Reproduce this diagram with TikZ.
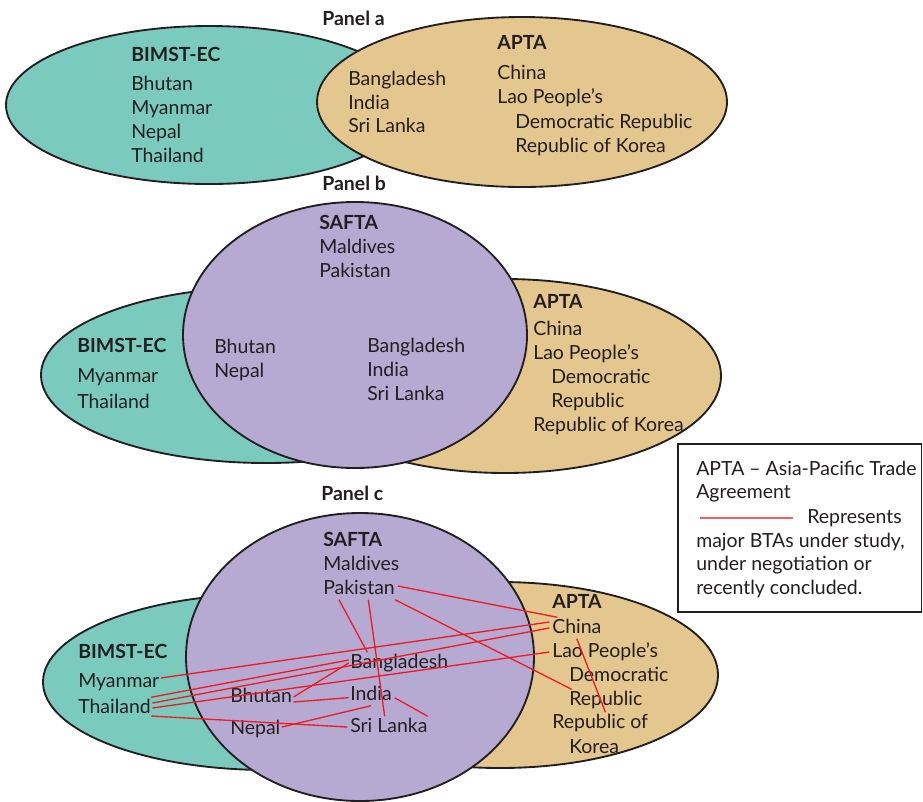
\documentclass[tikz,border=0pt]{standalone}
\usepackage{fontspec}
\setmainfont{Lato}
\definecolor{bimstc}{RGB}{122,203,190}
\definecolor{aptac}{RGB}{228,199,142}
\definecolor{saftac}{RGB}{183,170,210}
\definecolor{btared}{RGB}{237,28,36}
\definecolor{ink}{RGB}{35,31,32}

\begin{document}
\begin{tikzpicture}[x=0.75pt,y=-0.75pt,
		every node/.style={font=\fontsize{14.6}{17}\selectfont,text=ink},
		country/.style={anchor=base west,inner xsep=0pt,inner ysep=1.1pt,text height=10.5pt,text depth=3pt},
		bloc/.style={country,font=\fontsize{14.6}{17}\selectfont\bfseries},
		venn/.style={draw=ink,line width=1.4pt},
		bta/.style={draw=btared,line width=1pt}]
		\useasboundingbox (0,0) rectangle (923,801);
		
		%---------------- PANEL A: BIMST-EC AND APTA ----------------
		\node[bloc] (a-title) at (322,25) {Panel a};
		\draw[venn,fill=bimstc] (209,105) ellipse [x radius=203, y radius=79];
		\draw[venn,fill=aptac] (522,102) ellipse [x radius=205, y radius=85];
		
		\node[bloc] (a-bimst) at (131,61) {BIMST-EC};
		\foreach \n/\t/\y in {bhu/Bhutan/90,mya/Myanmar/114,nep/Nepal/138,tha/Thailand/162} {
			\node[country] (a-\n) at (131,\y) {\t};
		}
		\foreach \n/\t/\y in {bang/Bangladesh/85,ind/India/109,sri/Sri Lanka/132} {
			\node[country] (a-\n) at (348,\y) {\t};
		}
		\node[bloc] (a-apta) at (497,49) {APTA};
		\node[country] (a-china) at (497,79) {China};
		\node[country] (a-lao) at (497,103) {Lao People’s};
		\node[country] (a-dem) at (515,128) {Democratic Republic};
		\node[country] (a-kor) at (515,152) {Republic of Korea};
		
		%---------------- PANEL B: SAFTA ADDED ----------------
		\node[bloc] (b-title) at (322,190) {Panel b};
		\draw[venn,fill=bimstc] (266,375) ellipse [x radius=225, y radius=88];
		\draw[venn,fill=aptac] (505,376) ellipse [x radius=216, y radius=97];
		\draw[venn,fill=saftac] (355,335) ellipse [x radius=172, y radius=133];
		
		\node[bloc] (b-safta) at (319,229) {SAFTA};
		\node[country] (b-mal) at (319,253) {Maldives};
		\node[country] (b-pak) at (319,277) {Pakistan};
		\node[country] (b-bhu) at (214,353) {Bhutan};
		\node[country] (b-nep) at (214,377) {Nepal};
		\foreach \n/\t/\y in {bang/Bangladesh/352,ind/India/376,sri/Sri Lanka/400} {
			\node[country] (b-\n) at (367,\y) {\t};
		}
		\node[bloc] (b-bimst) at (77,352) {BIMST-EC};
		\node[country] (b-mya) at (77,382) {Myanmar};
		\node[country] (b-tha) at (77,408) {Thailand};
		\node[bloc] (b-apta) at (533,308) {APTA};
		\node[country] (b-china) at (533,335) {China};
		\node[country] (b-lao) at (533,359) {Lao People’s};
		\node[country] (b-dem) at (551,383) {Democratic};
		\node[country] (b-rep) at (551,407) {Republic};
		\node[country] (b-kor) at (533,431) {Republic of Korea};
		
		% key
		\draw[line width=1.4pt,draw=ink,fill=white] (678,444) rectangle (921.5,612);
		\node[country] (k-apta) at (696,475) {APTA – Asia-Pacific Trade};
		\node[country] (k-agr) at (696,498) {Agreement};
		\node[country] (k-rep) at (807,523) {Represents};
		\node[country] (k-maj) at (696,547) {major BTAs under study,};
		\node[country] (k-neg) at (696,570) {under negotiation or};
		\node[country] (k-con) at (696,594) {recently concluded.};
		\coordinate (k-a) at (700,518);
		\coordinate (k-b) at (793,518);
		\draw[bta,draw=btared!70,line width=1.5pt] (k-a) -- (k-b);
		
		%---------------- PANEL C: BTAs ----------------
		\node[bloc] (c-title) at (321,500) {Panel c};
		\draw[venn,fill=bimstc] (268,682) ellipse [x radius=225, y radius=88];
		\draw[venn,fill=aptac] (500,675) ellipse [x radius=218, y radius=93];
		\draw[venn,fill=saftac] (360,657) ellipse [x radius=174, y radius=144];
		
		\node[bloc] (c-safta) at (323,546) {SAFTA};
		\node[country] (c-mal) at (323,570) {Maldives};
		\node[country] (c-pak) at (323,594) {Pakistan};
		\node[country] (c-bhu) at (230,702) {Bhutan};
		\node[country] (c-nep) at (230,734) {Nepal};
		\foreach \n/\t/\y in {bang/Bangladesh/668,ind/India/700,sri/Sri Lanka/732} {
			\node[country] (c-\n) at (350,\y) {\t};
		}
		\node[bloc] (c-bimst) at (78,658) {BIMST-EC};
		\node[country] (c-mya) at (78,687) {Myanmar};
		\node[country] (c-tha) at (78,713) {Thailand};
		\node[bloc] (c-apta) at (552,608) {APTA};
		\node[country] (c-china) at (552,633) {China};
		\node[country] (c-lao) at (552,657) {Lao People’s};
		\node[country] (c-dem) at (569,681) {Democratic};
		\node[country] (c-rep) at (569,705) {Republic};
		\node[country] (c-kor) at (552,728) {Republic of};
		\node[country] (c-kor2) at (569,753) {Korea};
		
		% BTAs under study / negotiation
		\draw[bta] ([xshift=1pt,yshift=3pt]c-mya.east) -- ([xshift=-2pt,yshift=4.5pt]c-china.west);
		\draw[bta] (c-tha.north east) -- ([xshift=-1pt,yshift=2.25pt]c-bang.west);
		\draw[bta] ([xshift=1pt,yshift=3.75pt]c-tha.east) -- ([xshift=-2pt]c-china.west);
		\draw[bta] ([xshift=1pt]c-tha.east) -- ([xshift=-2pt]c-lao.west);
		\draw[bta] ([yshift=-6pt]c-tha.east) -- ([xshift=-2pt]c-sri.west);
		\draw[bta] ([xshift=1pt]c-bhu.east) -- ([xshift=-1pt]c-bang.west);
		\draw[bta] ([xshift=1pt,yshift=-3.75pt]c-bhu.east) -- ([xshift=-1pt,yshift=-2pt]c-ind.west);
		\draw[bta] ([xshift=1pt,yshift=1.5pt]c-nep.east) -- (c-ind.south);
		\draw[bta] ([xshift=12pt]c-pak.south west) -- ([xshift=13pt]c-bang.north west);
		\draw[bta] ([xshift=34pt]c-pak.south west) -- ([xshift=26pt]c-sri.north west);
		\draw[bta] ([xshift=2pt,yshift=-2pt]c-ind.east) -- (c-sri.north east);
		\draw[bta] ([xshift=2pt,yshift=2.25pt]c-pak.east) -- ([xshift=4pt]c-china.north west);
		\draw[bta] (c-pak.south east) -- ([xshift=2pt]c-rep.north west);
		\draw[bta] (c-china.south) -- ([xshift=4pt]c-kor.north);
	\end{tikzpicture}
\end{document}
